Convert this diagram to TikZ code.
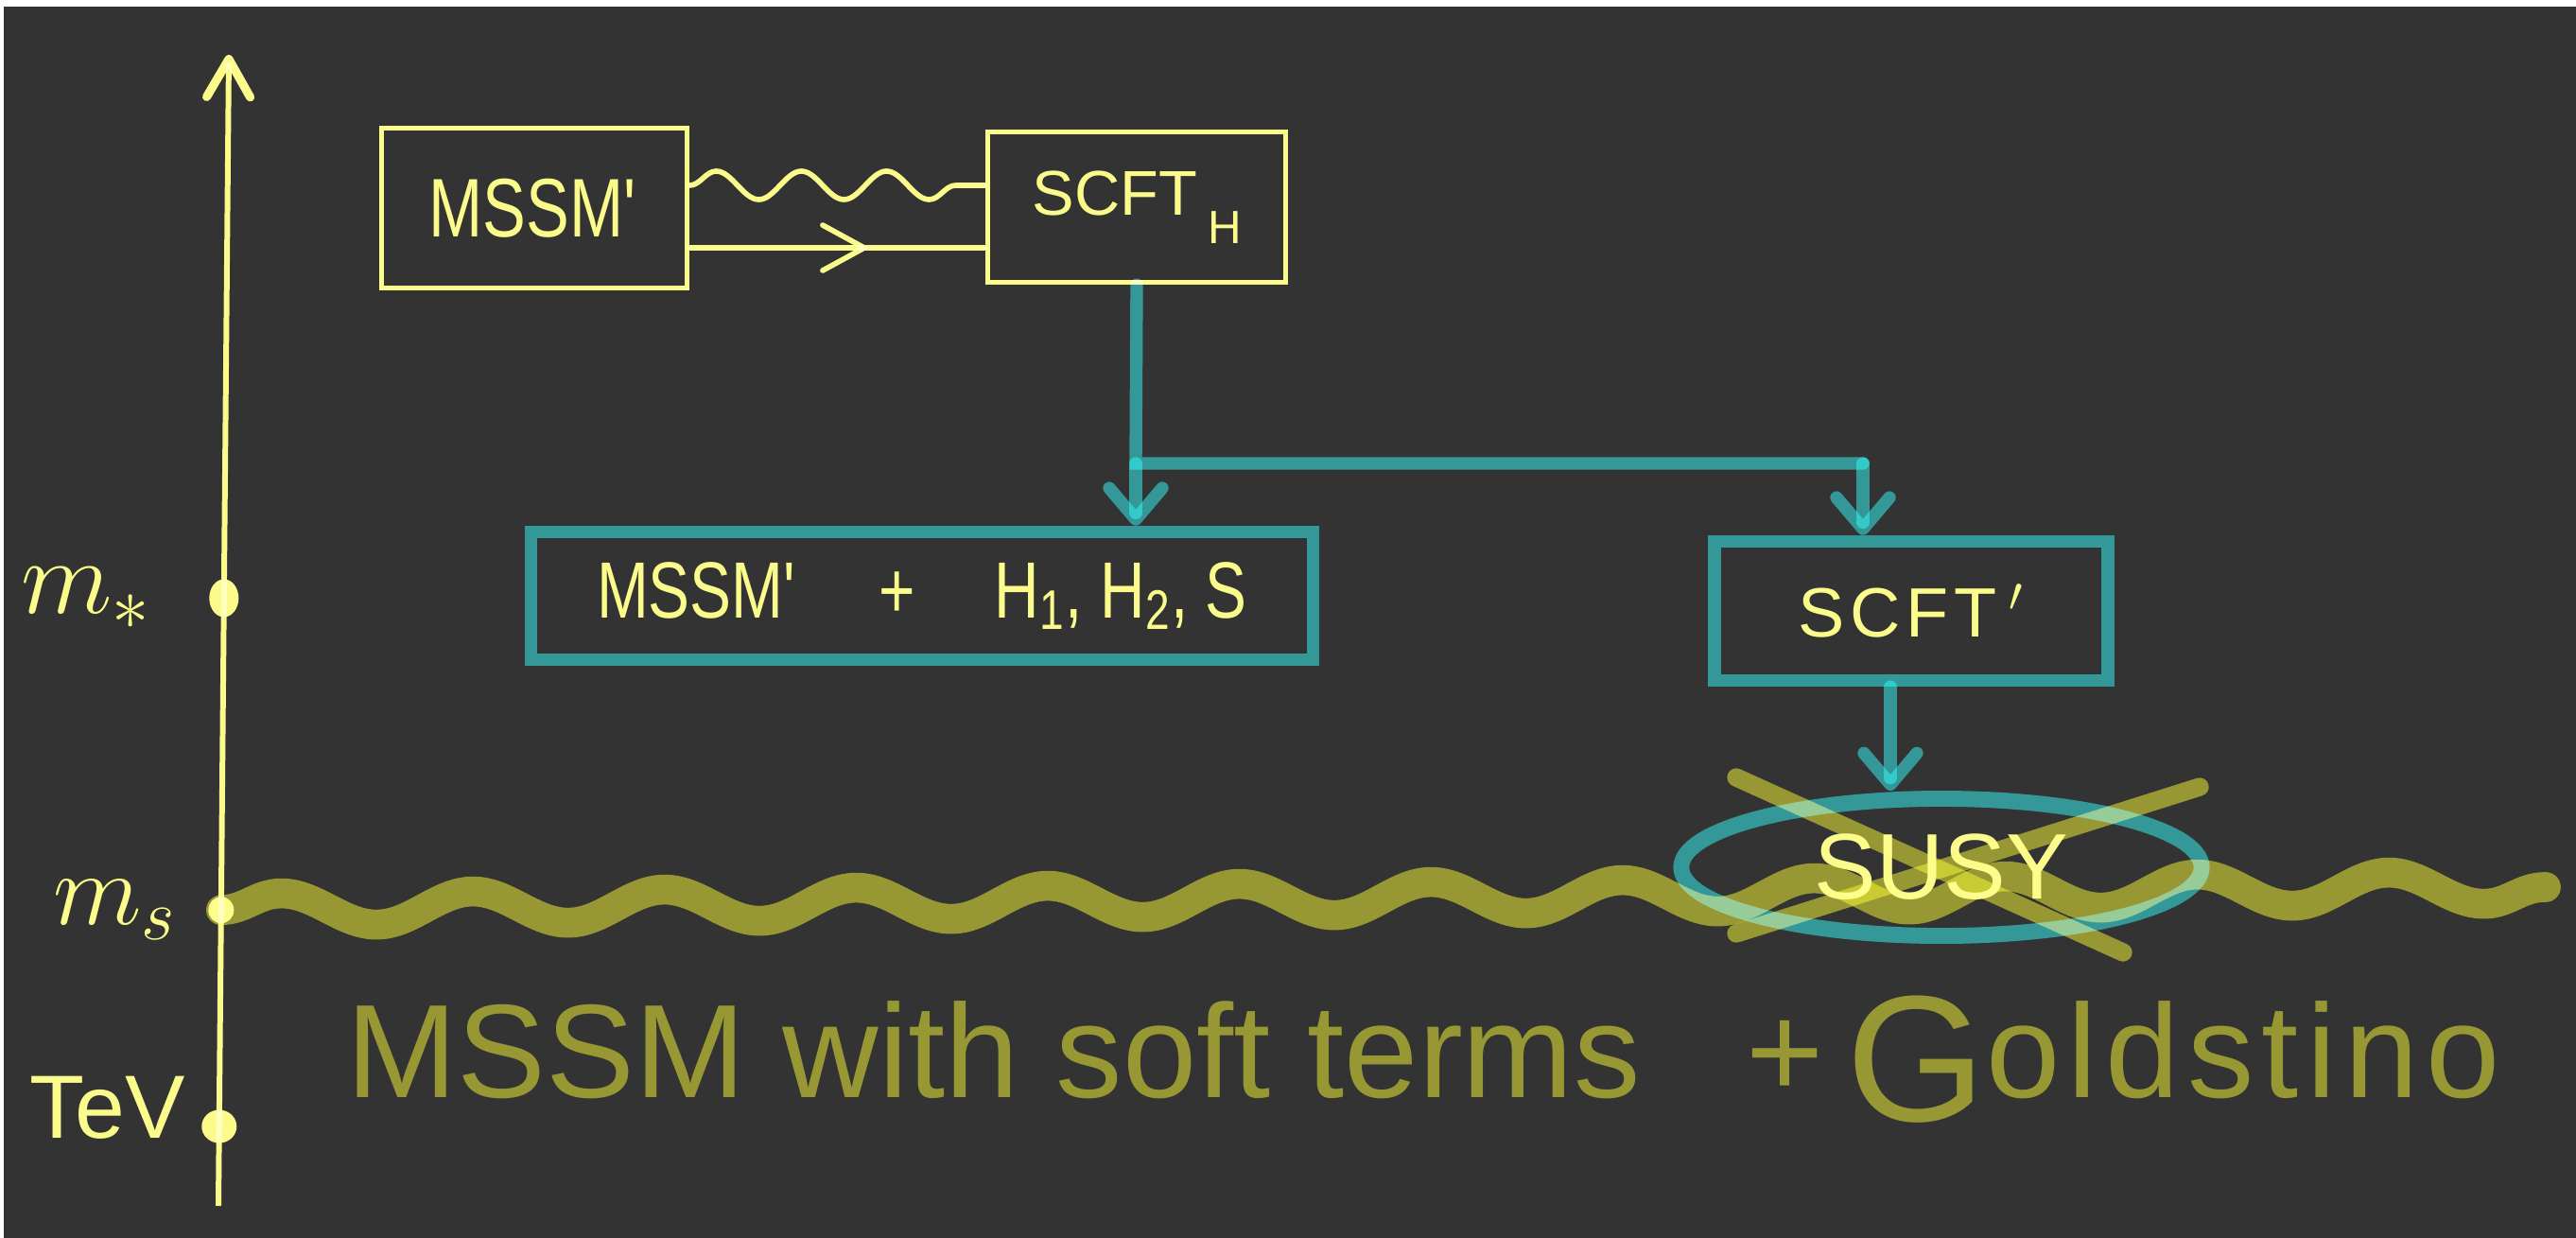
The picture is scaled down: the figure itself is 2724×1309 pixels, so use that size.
\RequirePackage{fix-cm}
\documentclass[tikz,border=0pt]{standalone}
\usepackage{fontspec}
\setmainfont{Liberation Sans}
\newfontfamily\narrowhand[FakeStretch=0.78]{Liberation Sans}
\usetikzlibrary{shapes.geometric, arrows.meta, positioning, calc, decorations.pathmorphing, decorations.markings}

\definecolor{bgdark}{RGB}{51,51,51}
\definecolor{ylwink}{RGB}{249,249,111}
\definecolor{tealink}{RGB}{0,126,124}
\definecolor{oliveink}{RGB}{124,124,0}

\begin{document}
\begin{tikzpicture}[
    x=0.01cm, y=-0.01cm,
    % Boxes
    ybox/.style={rectangle, draw=ylwink, line width=1.5pt, text=ylwink, inner sep=0pt},
    tbox/.style={rectangle, draw=tealink, line width=3.8pt, text=ylwink, inner sep=0pt},
    susy_oval/.style={ellipse, draw=tealink, line width=4.8pt, text=ylwink, inner sep=0pt},
    dot/.style={ellipse, fill=ylwink, inner sep=0pt},
    lbl/.style={text=ylwink, inner sep=0pt},
    % Connectors
    axis_line/.style={draw=ylwink, line width=1.7pt, -{Straight Barb[length=4mm, width=4.6mm, line width=2.6pt, round]}},
    flow/.style={draw=ylwink, line width=1.6pt, line cap=round, postaction={decorate},
        decoration={markings, mark=at position 0.6 with {\arrow{Straight Barb[length=4.4mm, width=4.8mm, round]}}}},
    wavy/.style={draw=ylwink, line width=1.6pt, line cap=round, decorate, decoration={snake, amplitude=1.5mm, segment length=9mm}},
    tline/.style={draw=tealink, line width=3.8pt, line cap=round},
    tarrow/.style={tline, -{Straight Barb[length=3.3mm, width=5.6mm, round]}},
    soft_band/.style={draw=oliveink, line width=9pt, line cap=round, decorate, decoration={snake, amplitude=1.7mm, segment length=2.025cm}},
    cross_line/.style={draw=oliveink, line width=5.5pt, line cap=round},
]
\useasboundingbox (0,0) rectangle (2724,1309);
\fill[white] (0,0) rectangle (2724,1309);
\fill[bgdark] (4,7) rectangle (2724,1309);

\begin{scope}[blend mode=screen]

% 1. Energy axis
\coordinate (axbot) at (231,1275);
\coordinate (axtop) at (242,58);
\draw[axis_line] (axbot) -- (axtop)
    node[dot, pos=0.069, minimum width=3.7mm, minimum height=3.5mm] (tev) {}
    node[dot, pos=0.257, minimum width=2.7mm, minimum height=2.8mm] (msdot) {}
    node[dot, pos=0.528, minimum width=3.1mm, minimum height=4mm] (mstar) {};

\node[lbl, font=\fontsize{32}{36}\selectfont, left=0.58cm of mstar] (mstarlbl) {$m_*$};
\node[lbl, font=\fontsize{31}{36}\selectfont, left=0.3cm of msdot] (mslbl) {$m_s$};
\node[lbl, font=\fontsize{27}{30}\selectfont, left=0.14cm of tev, yshift=0.2cm] (tevlbl) {TeV};

% 2. UV boxes
\node[ybox, minimum width=3.23cm, minimum height=1.69cm, font=\narrowhand\fontsize{25}{30}\selectfont] (mssm) at (565,220) {MSSM\textquotesingle};
\node[ybox, minimum width=3.15cm, minimum height=1.59cm, font=\fontsize{19}{22}\selectfont] (scfth) at (1202,219) {SCFT\,\raisebox{-0.3cm}{\fontsize{14}{14}\selectfont H}};

\draw[wavy] ([yshift=0.24cm]mssm.east) -- ([yshift=0.24cm]mssm.east -| scfth.west);
\draw[flow] ([yshift=-0.42cm]mssm.east) -- ([yshift=-0.42cm]mssm.east -| scfth.west);

% 3. Flow down to m_*
\node[tbox, minimum width=8.27cm, minimum height=1.35cm, font=\narrowhand\fontsize{24}{28}\selectfont] (mssmh) at (975,630) {MSSM\textquotesingle\quad+\quad H\textsubscript{1}, H\textsubscript{2}, S};
\node[tbox, minimum width=4.16cm, minimum height=1.47cm, font=\fontsize{21}{24}\selectfont] (scftp) at (2021,646) {\addfontfeature{LetterSpace=8}SCFT\,$'$};

\coordinate (fork) at (1201,490);
\coordinate (forkr) at (1970,490);
\draw[tline] (scfth.south) -- (fork) -- (forkr);
\draw[tarrow] (fork) -- (fork |- mssmh.north);
\draw[tarrow] (forkr) -- (forkr |- scftp.north);

% 4. SUSY breaking
\node[susy_oval, minimum width=5.5cm, minimum height=1.45cm, font=\fontsize{28}{32}\selectfont] (susy) at (2053,917) {SUSY};
\draw[tarrow] ([xshift=-0.22cm]scftp.south) -- ([xshift=-0.22cm]scftp.south |- susy.north);

\coordinate (waveend) at (2692,938);
\draw[soft_band] (msdot.center) -- (waveend);

\draw[cross_line] (susy) ++(-217,-95) -- ++(409,185);
\draw[cross_line] (susy) ++(273,-85) -- ++(-490,155);

% 5. Low energy
\node[anchor=base west, text=oliveink, font=\fontsize{40}{48}\selectfont, inner sep=0pt] (softtext) at (366,1160) {MSSM with soft terms\hspace{0.8em}+\,{\fontsize{54}{54}\selectfont\raisebox{-0.25cm}{G}}{\addfontfeature{LetterSpace=6}oldstino}};

\end{scope}
\end{tikzpicture}
\end{document}
